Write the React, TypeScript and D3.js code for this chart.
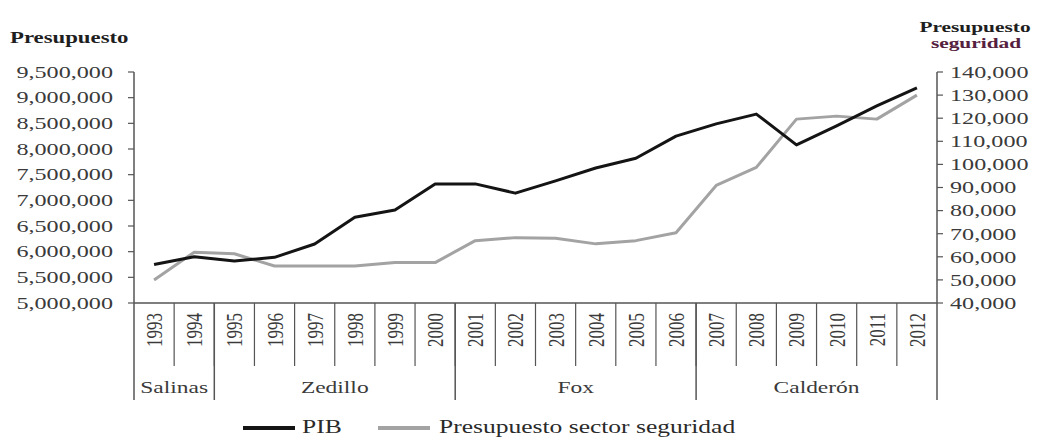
import React, { useEffect, useRef } from "react";
import * as d3 from "d3";

const years = [
  "1993", "1994", "1995", "1996", "1997", "1998", "1999", "2000", "2001", "2002",
  "2003", "2004", "2005", "2006", "2007", "2008", "2009", "2010", "2011", "2012",
];

// PIB (left axis)
const pib = [
  5750000, 5900000, 5820000, 5890000, 6150000, 6670000, 6810000, 7320000, 7320000, 7140000,
  7380000, 7630000, 7820000, 8250000, 8490000, 8680000, 8080000, 8450000, 8840000, 9190000,
];

// Presupuesto sector seguridad (right axis)
const seguridad = [
  50000, 62000, 61300, 56000, 56000, 56000, 57500, 57500, 67000, 68300,
  68000, 65600, 67000, 70400, 90900, 98700, 119600, 120900, 119600, 130000,
];

const leftTicks = [5000000, 5500000, 6000000, 6500000, 7000000, 7500000, 8000000, 8500000, 9000000, 9500000];
const rightTicks = [40000, 50000, 60000, 70000, 80000, 90000, 100000, 110000, 120000, 130000, 140000];

const sexenios = [
  { name: "Salinas", from: "1993", to: "1994" },
  { name: "Zedillo", from: "1995", to: "2000" },
  { name: "Fox", from: "2001", to: "2006" },
  { name: "Calderón", from: "2007", to: "2012" },
];

const W = 1045;
const H = 437;
const SX = 1.38; // the source image is stretched horizontally
const FONT = "'Liberation Serif', 'Times New Roman', serif";

const App = () => {
  const ref = useRef(null);

  useEffect(() => {
    const svg = d3.select(ref.current);
    svg.selectAll("*").remove();

    const left = 134, right = 937, top = 72, bottom = 303;

    const x = d3.scaleBand().domain(years).range([left, right]);
    const yL = d3.scaleLinear().domain([5000000, 9500000]).range([bottom, top]);
    const yR = d3.scaleLinear().domain([40000, 140000]).range([bottom, top]);
    const cx = (d) => x(d) + x.bandwidth() / 2;
    const fmt = d3.format(",");
    const axisColor = "#555";
    const textColor = "#3a3a3a";

    const g = svg.append("g").style("font-family", FONT);

    // stretched text helper
    const txt = (parent, px, py, s, opts = {}) =>
      parent
        .append("text")
        .attr("transform", `translate(${px},${py}) scale(${SX},1)${opts.rotate ? " rotate(-90)" : ""}`)
        .attr("text-anchor", opts.anchor || "start")
        .attr("dominant-baseline", opts.baseline || "auto")
        .attr("font-size", opts.size || 17.5)
        .attr("font-weight", opts.weight || "normal")
        .attr("fill", opts.fill || textColor)
        .text(s);

    // titles
    txt(g, 10, 43, "Presupuesto", { weight: "bold", size: 16.5, fill: "#1e1e1e" });
    txt(g, 975, 32, "Presupuesto", { weight: "bold", size: 15.5, anchor: "middle", fill: "#1e1e1e" });
    txt(g, 976, 48, "seguridad", { weight: "bold", size: 15.5, anchor: "middle", fill: "#55213f" });

    // left axis
    g.append("line").attr("x1", left).attr("x2", left).attr("y1", top).attr("y2", 400)
      .attr("stroke", axisColor).attr("stroke-width", 1.5);
    leftTicks.forEach((t) => {
      g.append("line").attr("x1", left - 6).attr("x2", left).attr("y1", yL(t)).attr("y2", yL(t))
        .attr("stroke", axisColor).attr("stroke-width", 1.2);
      txt(g, 113, yL(t), fmt(t), { anchor: "end", baseline: "central" });
    });

    // right axis
    g.append("line").attr("x1", right).attr("x2", right).attr("y1", top).attr("y2", 400)
      .attr("stroke", axisColor).attr("stroke-width", 1.5);
    rightTicks.forEach((t) => {
      g.append("line").attr("x1", right).attr("x2", right + 6).attr("y1", yR(t)).attr("y2", yR(t))
        .attr("stroke", axisColor).attr("stroke-width", 1.2);
      txt(g, 950, yR(t), fmt(t), { baseline: "central" });
    });

    // category axis
    g.append("line").attr("x1", left).attr("x2", right).attr("y1", bottom).attr("y2", bottom)
      .attr("stroke", axisColor).attr("stroke-width", 1.5);
    years.forEach((yr, i) => {
      if (i > 0) {
        g.append("line").attr("x1", x(yr)).attr("x2", x(yr)).attr("y1", bottom).attr("y2", 366)
          .attr("stroke", axisColor).attr("stroke-width", 1.2);
      }
      txt(g, cx(yr), 313, yr, { rotate: true, anchor: "end", baseline: "central", size: 17 });
    });
    sexenios.forEach((s, i) => {
      const x0 = x(s.from);
      const x1 = x(s.to) + x.bandwidth();
      if (i > 0) {
        g.append("line").attr("x1", x0).attr("x2", x0).attr("y1", bottom).attr("y2", 400)
          .attr("stroke", axisColor).attr("stroke-width", 1.5);
      }
      txt(g, (x0 + x1) / 2, 393, s.name, { anchor: "middle", size: 17 });
    });

    // lines
    const line = (yScale) =>
      d3.line().x((d, i) => cx(years[i])).y((d) => yScale(d));

    g.append("path").datum(seguridad).attr("d", line(yR)).attr("fill", "none")
      .attr("stroke", "#a3a3a3").attr("stroke-width", 3).attr("stroke-linejoin", "round");
    g.append("path").datum(pib).attr("d", line(yL)).attr("fill", "none")
      .attr("stroke", "#141414").attr("stroke-width", 3).attr("stroke-linejoin", "round");

    // legend
    const ly = 428;
    g.append("line").attr("x1", 243).attr("x2", 295).attr("y1", ly).attr("y2", ly)
      .attr("stroke", "#141414").attr("stroke-width", 4);
    txt(g, 302, 433, "PIB", { size: 18.5, fill: "#2a2a2a" });
    g.append("line").attr("x1", 378).attr("x2", 430).attr("y1", ly).attr("y2", ly)
      .attr("stroke", "#a3a3a3").attr("stroke-width", 4);
    txt(g, 439, 433, "Presupuesto sector seguridad", { size: 18.5, fill: "#2a2a2a" });
  }, []);

  return (
    <svg
      ref={ref}
      width={W}
      height={H}
      style={{ position: "absolute", left: 0, top: 0, background: "#fff" }}
    />
  );
};

export default App;
